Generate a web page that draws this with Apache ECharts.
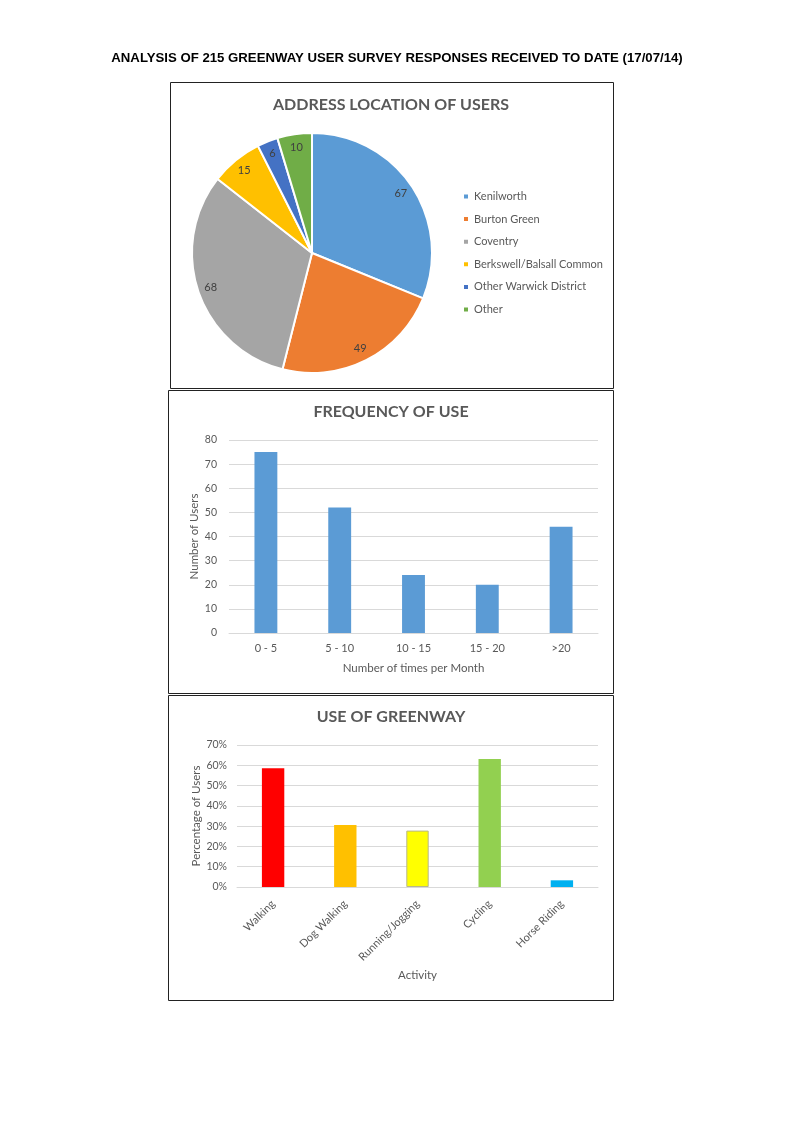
<!DOCTYPE html>
<html>
<head>
    <meta charset="utf-8">
    <script src="https://cdn.jsdelivr.net/npm/echarts@6/dist/echarts.min.js"></script>
    <style>
        body { margin: 0; background: #fff; }
    </style>
</head>
<body>
<div id="main" style="width: 794px; height: 1123px"></div>
<script type="text/javascript">
    // address location (pie)
    var locNames = ['Kenilworth', 'Burton Green', 'Coventry', 'Berkswell/Balsall Common', 'Other Warwick District', 'Other'];
    var locValues = [67, 49, 68, 15, 6, 10];
    var locColors = ['#5B9BD5', '#ED7D31', '#A5A5A5', '#FFC000', '#4472C4', '#70AD47'];

    // frequency of use
    var freqCats = ['0 - 5', '5 - 10', '10 - 15', '15 - 20', '>20'];
    var freqValues = [75, 52, 24, 20, 44];

    // use of greenway (%)
    var useCats = ['Walking', 'Dog Walking', 'Running/Jogging', 'Cycling', 'Horse Riding'];
    var useValues = [58.5, 30.6, 27.8, 63.1, 3.3];
    var useColors = ['#FF0000', '#FFC000', '#FFFF00', '#92D050', '#00B0F0'];

    var font = 'Lato, "Open Sans", sans-serif';
    var grey = '#595959';

    var pieData = [];
    for (var i = 0; i < locNames.length; i++) {
        pieData.push({name: locNames[i], value: locValues[i], itemStyle: {color: locColors[i]}});
    }
    var useData = [];
    for (var j = 0; j < useCats.length; j++) {
        var it = {value: useValues[j], itemStyle: {color: useColors[j]}};
        if (useCats[j] == 'Running/Jogging') {
            it.itemStyle.borderColor = '#b8b88a';
            it.itemStyle.borderWidth = 1;
        }
        useData.push(it);
    }

    function box(x1, y1, x2, y2) {
        return {type: 'rect', shape: {x: x1 + 0.5, y: y1 + 0.5, width: x2 - x1, height: y2 - y1},
            style: {fill: 'none', stroke: '#222', lineWidth: 1}, silent: true};
    }
    function heading(txt, x, y) {
        return {type: 'text', x: x, y: y, silent: true,
            style: {text: txt, fill: grey, font: 'bold 16px ' + font, textAlign: 'center', textVerticalAlign: 'middle'}};
    }

    var myChart = echarts.init(document.getElementById('main'));
    var option = {
        backgroundColor: '#fff',
        textStyle: {fontFamily: font},
        animation: false,
        title: {text: 'ANALYSIS OF 215 GREENWAY USER SURVEY RESPONSES RECEIVED TO DATE (17/07/14)', left: 'center', top: 47,
            textStyle: {fontFamily: '"Liberation Sans", Arial, sans-serif', fontSize: 13.2, fontWeight: 'bold', color: '#000'}},
        graphic: [
            box(170, 82, 613, 388), box(168, 390, 613, 693), box(168, 695, 613, 1000),
            heading('ADDRESS LOCATION OF USERS', 391, 105),
            heading('FREQUENCY OF USE', 391, 412),
            heading('USE OF GREENWAY', 391, 717)
        ],
        legend: {
            orient: 'vertical', left: 457, top: 186,
            data: locNames,
            icon: 'rect', itemWidth: 6, itemHeight: 6, itemGap: 11.6,
            textStyle: {fontFamily: font, fontSize: 11, color: grey}
        },
        grid: [
            {left: 229, right: 196, top: 440, bottom: 490},
            {left: 237, right: 196, top: 745, bottom: 236}
        ],
        xAxis: [
            {type: 'category', gridIndex: 0, data: freqCats,
                name: 'Number of times per Month', nameLocation: 'middle', nameGap: 29,
                nameTextStyle: {fontSize: 11.5, color: grey},
                axisLine: {lineStyle: {color: '#D9D9D9'}}, axisTick: {show: false},
                axisLabel: {color: grey, fontSize: 11, margin: 10}},
            {type: 'category', gridIndex: 1, data: useCats,
                name: 'Activity', nameLocation: 'middle', nameGap: 82,
                nameTextStyle: {fontSize: 11.5, color: grey},
                axisLine: {lineStyle: {color: '#D9D9D9'}}, axisTick: {show: false},
                axisLabel: {color: grey, fontSize: 11, rotate: 45, margin: 15, interval: 0}}
        ],
        yAxis: [
            {type: 'value', gridIndex: 0, min: 0, max: 80, interval: 10,
                name: 'Number of Users', nameLocation: 'middle', nameGap: 29,
                nameTextStyle: {fontSize: 11.5, color: grey},
                axisLine: {show: false}, axisTick: {show: false},
                splitLine: {lineStyle: {color: '#D9D9D9'}},
                axisLabel: {color: grey, fontSize: 10.5, margin: 12}},
            {type: 'value', gridIndex: 1, min: 0, max: 70, interval: 10,
                name: 'Percentage of Users', nameLocation: 'middle', nameGap: 35,
                nameTextStyle: {fontSize: 11.5, color: grey},
                axisLine: {show: false}, axisTick: {show: false},
                splitLine: {lineStyle: {color: '#D9D9D9'}},
                axisLabel: {color: grey, fontSize: 10.5, margin: 10, formatter: '{value}%'}}
        ],
        series: [
            {name: 'Address', type: 'pie', center: [312, 253], radius: [0, 120],
                startAngle: 90, clockwise: true,
                data: pieData,
                itemStyle: {borderColor: '#fff', borderWidth: 2},
                label: {show: false}, labelLine: {show: false}},
            {name: 'AddressLabels', type: 'pie', center: [312, 253], radius: [88, 120],
                startAngle: 90, clockwise: true, silent: true,
                data: pieData.map(function (d) { return {name: d.name, value: d.value}; }),
                itemStyle: {color: 'rgba(0,0,0,0)'},
                legendHoverLink: false,
                label: {show: true, position: 'inside', formatter: '{c}', fontSize: 11, color: '#404040', fontFamily: font},
                labelLine: {show: false}},
            {type: 'bar', xAxisIndex: 0, yAxisIndex: 0, data: freqValues, barWidth: '31%',
                itemStyle: {color: '#5B9BD5'}},
            {type: 'bar', xAxisIndex: 1, yAxisIndex: 1, data: useData, barWidth: '31%'}
        ]
    };
    myChart.setOption(option);
</script>
</body>
</html>
